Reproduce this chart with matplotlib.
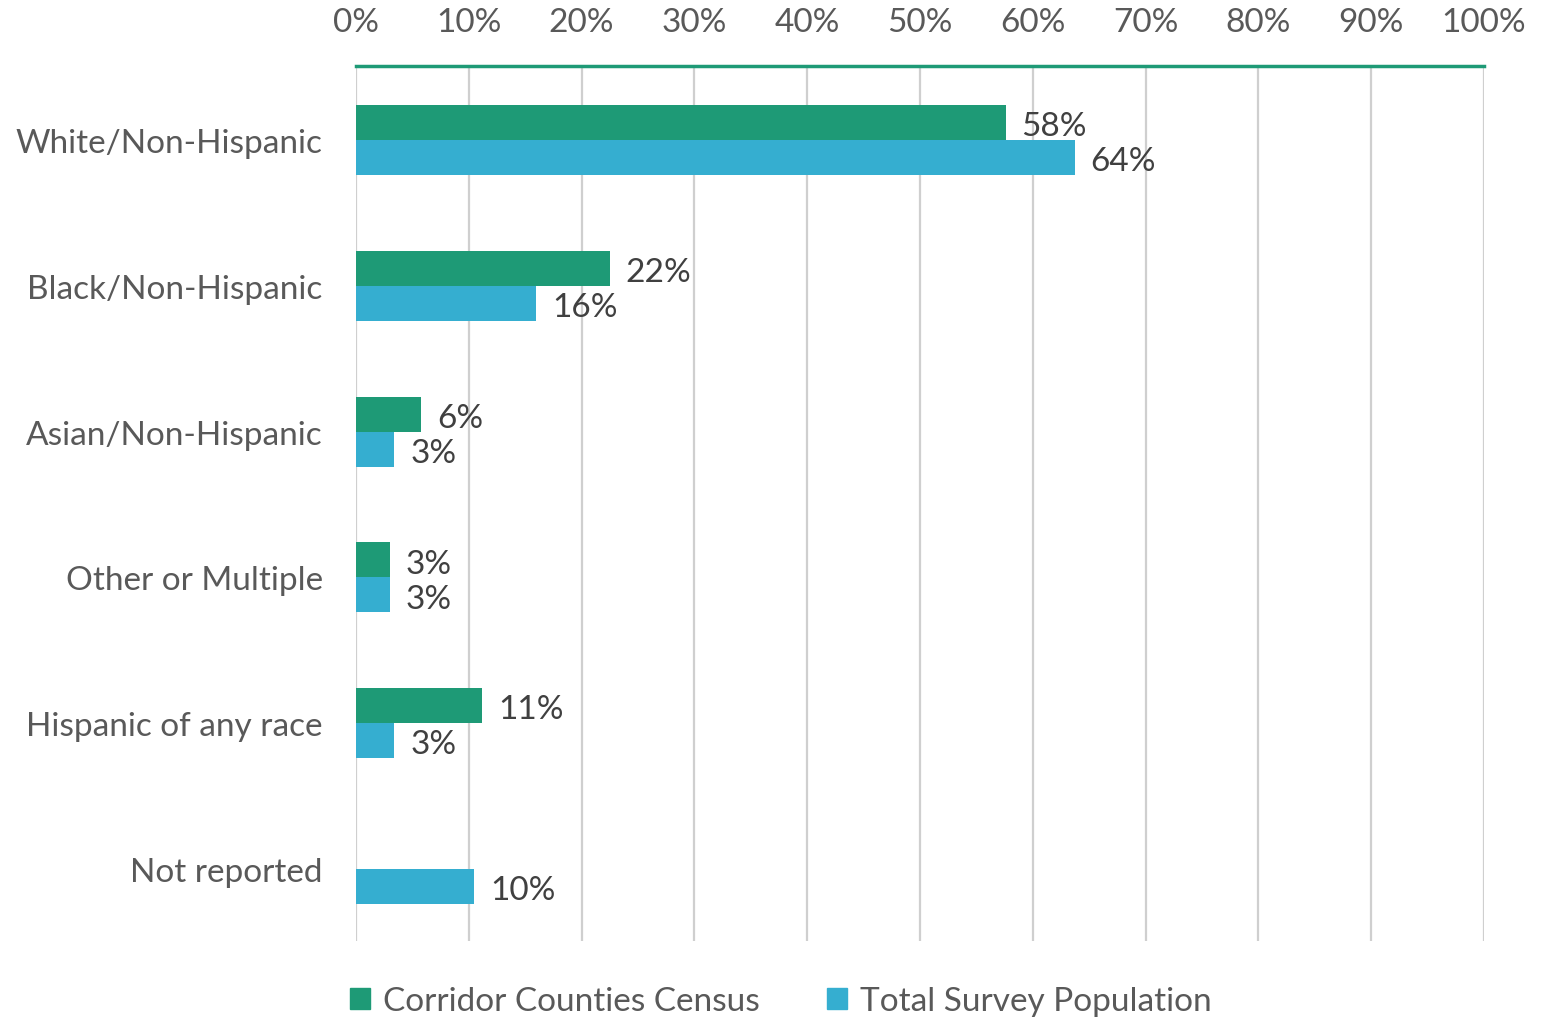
import matplotlib.pyplot as plt
import numpy as np

plt.rcParams['font.family'] = ['Lato', 'DejaVu Sans']

categories = ["White/Non-Hispanic", "Black/Non-Hispanic", "Asian/Non-Hispanic",
              "Other or Multiple", "Hispanic of any race", "Not reported"]
census = [57.6, 22.5, 5.8, 3.0, 11.2, 0.0]
survey = [63.7, 16.0, 3.4, 3.0, 3.4, 10.5]
series_names = ["Corridor Counties Census", "Total Survey Population"]

green = "#1e9a76"
blue = "#35aed0"
grid_gray = "#cfcfcf"
text_gray = "#595959"
label_dark = "#404040"
fs = 24

fig = plt.figure(figsize=(15.44, 10.2), dpi=100)
ax = fig.add_axes([356 / 1544, 1 - 942 / 1020, (1484 - 356) / 1544, (942 - 67) / 1020])

y = np.arange(len(categories))
h = 0.24
dy = 0.025  # nudge value labels slightly below bar centre

for i in range(len(categories)):
    if census[i] > 0:
        ax.barh(y[i] - h / 2, census[i], height=h, color=green, zorder=3)
        ax.text(census[i] + 1.4, y[i] - h / 2 + dy, "{:.0f}%".format(census[i]),
                va="center", ha="left", fontsize=fs, color=label_dark)
    if survey[i] > 0:
        ax.barh(y[i] + h / 2, survey[i], height=h, color=blue, zorder=3)
        ax.text(survey[i] + 1.4, y[i] + h / 2 + dy, "{:.0f}%".format(survey[i]),
                va="center", ha="left", fontsize=fs, color=label_dark)

ax.set_xlim(0, 100)
ax.set_ylim(5.494, -0.508)
ax.set_yticks(y)
ax.set_yticklabels(categories, fontsize=fs, color=text_gray)
ax.set_xticks(np.arange(0, 101, 10))
ax.set_xticklabels(["{}%".format(v) for v in range(0, 101, 10)], fontsize=fs, color=text_gray)
ax.xaxis.tick_top()
ax.tick_params(axis="x", length=0, pad=21)
ax.tick_params(axis="y", length=0, pad=24)
ax.grid(axis="x", color=grid_gray, linewidth=1.6, zorder=0)

for s in ["bottom", "right", "left"]:
    ax.spines[s].set_visible(False)
ax.spines["top"].set_color(green)
ax.spines["top"].set_linewidth(2.5)

handles = [plt.Rectangle((0, 0), 1, 1, color=green), plt.Rectangle((0, 0), 1, 1, color=blue)]
leg = fig.legend(handles, series_names, loc="center", bbox_to_anchor=(781 / 1544, 1 - 1002 / 1020),
                 ncol=2, frameon=False, fontsize=fs, handlelength=0.6, handleheight=0.6,
                 handletextpad=0.4, columnspacing=2.0)
for t in leg.get_texts():
    t.set_color(text_gray)

fig.savefig("out.png", dpi=100)
